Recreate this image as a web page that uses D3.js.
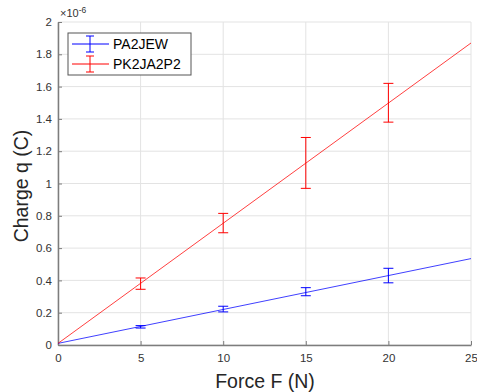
<!DOCTYPE html>
<html>
<head>
<meta charset="utf-8">
<script src="https://cdn.jsdelivr.net/npm/d3@7"></script>
<style>
  body { margin: 0; background: #fff; }
  svg { display: block; font-family: "Liberation Sans", Arial, sans-serif; }
</style>
</head>
<body>
<div id="chart"></div>
<script>
// data (charge in units of 1e-6 C)
const forces = [5, 10, 15, 20];
const pa2jewMean = [0.115, 0.22, 0.325, 0.43];
const pa2jewLow = [0.105, 0.205, 0.305, 0.385];
const pa2jewHigh = [0.12, 0.24, 0.355, 0.475];
const pk2ja2p2Mean = [0.38, 0.755, 1.13, 1.5];
const pk2ja2p2Low = [0.345, 0.695, 0.97, 1.38];
const pk2ja2p2High = [0.415, 0.815, 1.285, 1.62];
const fitForces = [0, 25];
const pa2jewFit = [0.01, 0.535];
const pk2ja2p2Fit = [0.01, 1.87];
const xTicks = [0, 5, 10, 15, 20, 25];
const yTicks = [0, 0.2, 0.4, 0.6, 0.8, 1, 1.2, 1.4, 1.6, 1.8, 2];

const W = 477, H = 392;
const margin = { t: 22, r: 6, b: 47, l: 58 };

const svg = d3.select("#chart").append("svg")
  .attr("width", W).attr("height", H);

const x = d3.scaleLinear().domain([0, 25]).range([margin.l, W - margin.r]);
const y = d3.scaleLinear().domain([0, 2]).range([H - margin.b, margin.t]);

// grid
const grid = svg.append("g").attr("class", "grid");
grid.selectAll(".gx").data(xTicks).join("line")
  .attr("x1", d => x(d)).attr("x2", d => x(d))
  .attr("y1", y(0)).attr("y2", y(2))
  .attr("stroke", "#e3e3e3").attr("stroke-width", 1);
grid.selectAll(".gy").data(yTicks).join("line")
  .attr("y1", d => y(d)).attr("y2", d => y(d))
  .attr("x1", x(0)).attr("x2", x(25))
  .attr("stroke", "#e3e3e3").attr("stroke-width", 1);

// axes
const axisColor = "#7d7d7d";
const ax = svg.append("g")
  .attr("transform", `translate(0,${y(0)})`)
  .call(d3.axisBottom(x).tickValues(xTicks).tickSizeInner(-4).tickSizeOuter(0).tickPadding(9));
const ay = svg.append("g")
  .attr("transform", `translate(${x(0)},0)`)
  .call(d3.axisLeft(y).tickValues(yTicks).tickSizeInner(-4).tickSizeOuter(0).tickPadding(6)
    .tickFormat(d => d3.format("~g")(d)));
[ax, ay].forEach(g => {
  g.select(".domain").attr("stroke", axisColor).attr("stroke-width", 1.5);
  g.selectAll(".tick line").attr("stroke", axisColor);
  g.selectAll(".tick text").attr("fill", "#333").attr("font-size", 11.5)
    .attr("font-family", "Liberation Sans, Arial, sans-serif");
});

// exponent label
const exp = svg.append("text").attr("x", x(0) + 2).attr("y", 17)
  .attr("fill", "#333").attr("font-size", 11);
exp.append("tspan").text("\u00d710");
exp.append("tspan").attr("dy", -4).attr("font-size", 8.5).text("-6");

// axis titles
svg.append("text").attr("x", 265).attr("y", 388)
  .attr("text-anchor", "middle").attr("font-size", 19.5).attr("fill", "#262626")
  .text("Force F (N)");
svg.append("text").attr("transform", "translate(28,186) rotate(-90)")
  .attr("text-anchor", "middle").attr("font-size", 19.5).attr("fill", "#262626")
  .text("Charge q (C)");

const series = [
  { name: "PA2JEW", color: "#0000ff", mean: pa2jewMean, low: pa2jewLow, high: pa2jewHigh, fit: pa2jewFit },
  { name: "PK2JA2P2", color: "#ff0000", mean: pk2ja2p2Mean, low: pk2ja2p2Low, high: pk2ja2p2High, fit: pk2ja2p2Fit }
];

const line = d3.line().x(d => x(d[0])).y(d => y(d[1]));
const capW = 5;

series.forEach(s => {
  const g = svg.append("g");
  g.append("path")
    .attr("d", line(fitForces.map((f, i) => [f, s.fit[i]])))
    .attr("fill", "none").attr("stroke", s.color).attr("stroke-opacity", 0.75).attr("stroke-width", 1);
  const eb = g.selectAll(".eb").data(forces.map((f, i) => ({ f, lo: s.low[i], hi: s.high[i] })))
    .join("g").attr("stroke", s.color).attr("stroke-width", 1);
  eb.append("line").attr("x1", d => x(d.f)).attr("x2", d => x(d.f))
    .attr("y1", d => y(d.lo)).attr("y2", d => y(d.hi));
  eb.append("line").attr("x1", d => x(d.f) - capW).attr("x2", d => x(d.f) + capW)
    .attr("y1", d => y(d.lo)).attr("y2", d => y(d.lo));
  eb.append("line").attr("x1", d => x(d.f) - capW).attr("x2", d => x(d.f) + capW)
    .attr("y1", d => y(d.hi)).attr("y2", d => y(d.hi));
});

// legend
const lg = svg.append("g").attr("transform", "translate(68,33)");
lg.append("rect").attr("width", 123).attr("height", 42)
  .attr("fill", "#fff").attr("stroke", "#555").attr("stroke-width", 1);
series.forEach((s, i) => {
  const cy = 11 + i * 20;
  const r = lg.append("g").attr("stroke", s.color).attr("stroke-width", 1);
  r.append("line").attr("x1", 4).attr("x2", 41).attr("y1", cy).attr("y2", cy);
  r.append("line").attr("x1", 22).attr("x2", 22).attr("y1", cy - 8).attr("y2", cy + 8);
  r.append("line").attr("x1", 18).attr("x2", 26).attr("y1", cy - 8).attr("y2", cy - 8);
  r.append("line").attr("x1", 18).attr("x2", 26).attr("y1", cy + 8).attr("y2", cy + 8);
  lg.append("text").attr("x", 45).attr("y", cy + 5).attr("font-size", 14)
    .attr("fill", "#000").text(s.name);
});
</script>
</body>
</html>
